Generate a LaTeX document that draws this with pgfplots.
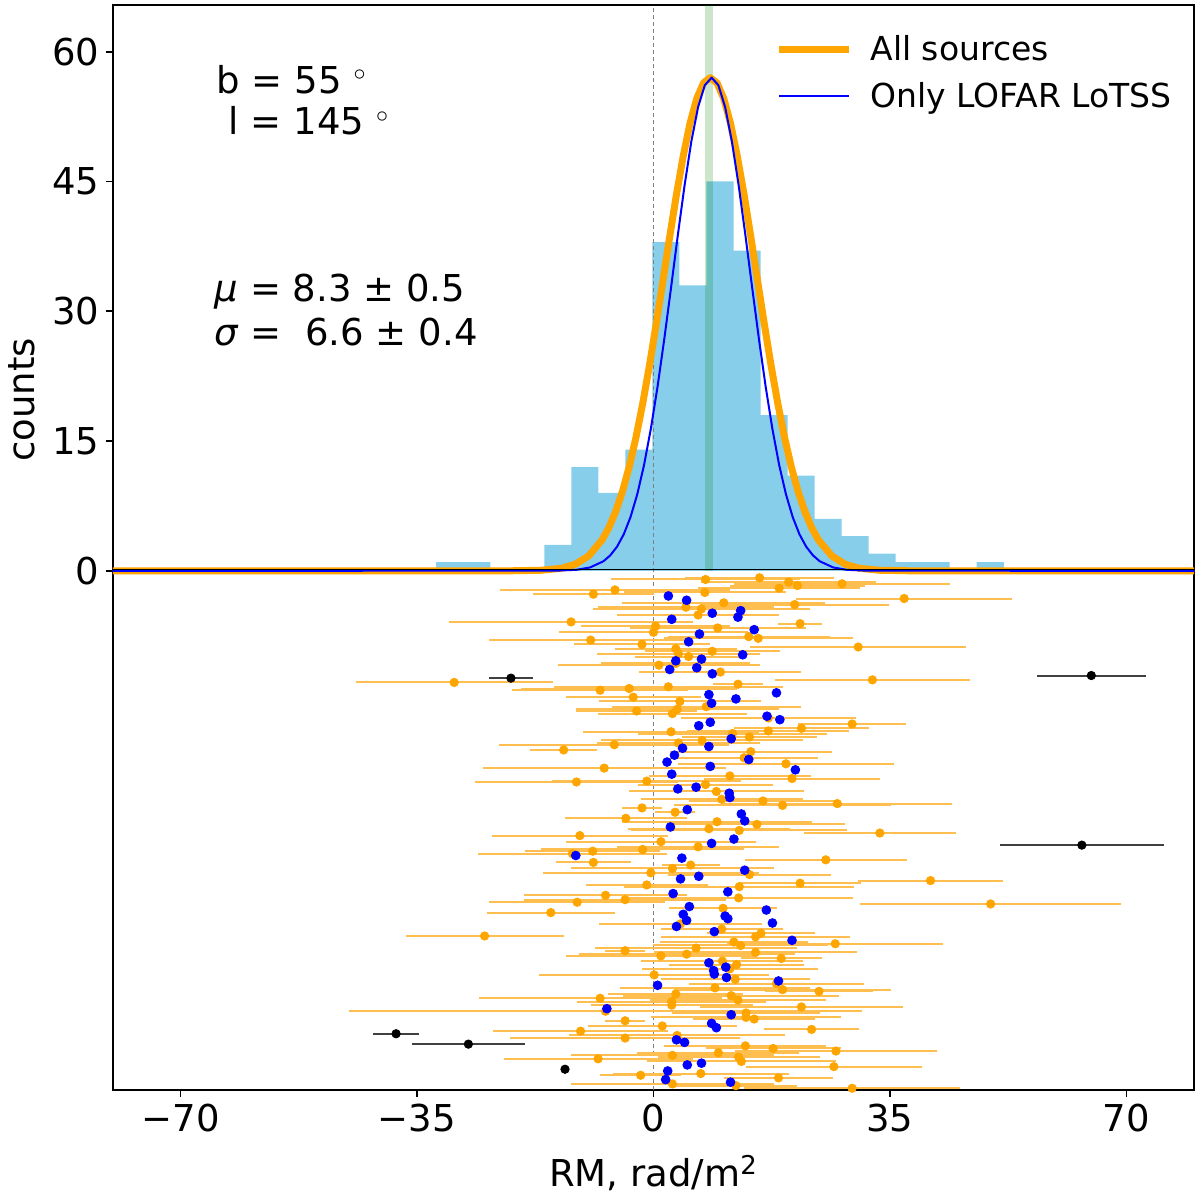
\documentclass[border=0pt]{standalone}
\usepackage{fontspec}
\setmainfont{DejaVu Sans}
\usepackage{pgfplots}
\pgfplotsset{compat=1.18}
\definecolor{mplorange}{HTML}{FFA500}
\definecolor{barorange}{RGB}{255,190,80}
\definecolor{skyblue}{HTML}{87CEEB}
\definecolor{mplgreen}{HTML}{008000}
\definecolor{mplblue}{HTML}{0000FF}
\begin{document}
\begin{tikzpicture}
\useasboundingbox (0,0) rectangle (600pt,599pt);
\begin{axis}[
  at={(56.5pt,54pt)}, anchor=south west,
  width=540.5pt, height=542.5pt, scale only axis,
  xmin=-80, xmax=80, ymin=-60, ymax=65.4,
  xtick={-70,-35,0,35,70}, xticklabels={−70,−35,0,35,70},
  ytick={0,15,30,45,60}, yticklabels={0,15,30,45,60},
  tick align=outside, xtick pos=left, ytick pos=left,
  major tick length=3.4pt,
  tick style={black, line width=0.8pt},
  axis line style={line width=0.8pt},
  ticklabel style={font=\fontsize{18.5}{22}\selectfont},
  xlabel={RM, rad/m\textsuperscript{2}}, ylabel={counts},
  every axis x label/.style={at={(axis description cs:0.5,-0.0894)}, anchor=base, font=\fontsize{18.5}{22}\selectfont},
  every axis y label/.style={at={(axis description cs:-0.0842,0.636)}, rotate=90, anchor=center, font=\fontsize{18.5}{22}\selectfont},
  legend style={at={(axis description cs:0.607,0.98)}, anchor=north west, draw=none, fill=none,
    font=\fontsize{16.5}{20}\selectfont, row sep=5.5pt},
  legend cell align=left,
  legend image code/.code={\draw[#1] (0pt,0pt) -- (35pt,0pt); \path (42pt,0pt);},
]
% histogram
\addplot[ybar interval, fill=skyblue, draw=none, forget plot] coordinates {
(-32.16,1) (-28.16,1) (-24.16,0) (-20.16,0) (-16.16,3) (-12.16,12) (-8.16,9) (-4.16,14)
(-0.16,38) (3.84,33) (7.84,45) (11.84,37) (15.84,18) (19.84,11) (23.84,6) (27.84,4)
(31.84,2) (35.84,1) (39.84,1) (43.84,0) (47.84,1) (51.84,0)};
% mean band
\addplot[mplgreen, opacity=0.2, line width=3.7pt, forget plot] coordinates {(8.2,0) (8.2,65.4)};
% zero line
\addplot[gray, line width=0.5pt, dash pattern=on 2pt off 1.5pt, forget plot] coordinates {(0,-60) (0,65.4)};
% gaussians
\addplot[mplorange, line width=3.5pt, line join=round] coordinates {
(-80,0) (-21.6,0) (-16.6,0.07) (-13.6,0.30) (-11.6,0.75) (-9.6,1.72) (-7.6,3.58) (-6.6,5.00)
(-5.6,6.85) (-4.6,9.17) (-3.6,12.01) (-2.6,15.40) (-1.6,19.33) (-0.6,23.74) (0.4,28.53)
(1.4,33.55) (2.4,38.62) (3.4,43.50) (4.4,47.94) (5.4,51.71) (6.4,54.59) (7.4,56.39) (8.4,57)
(9.4,56.39) (10.4,54.59) (11.4,51.71) (12.4,47.94) (13.4,43.50) (14.4,38.62) (15.4,33.55)
(16.4,28.53) (17.4,23.74) (18.4,19.33) (19.4,15.40) (20.4,12.01) (21.4,9.17) (22.4,6.85)
(23.4,5.00) (24.4,3.58) (26.4,1.72) (28.4,0.75) (30.4,0.30) (33.4,0.07) (38.4,0) (80,0)};
\addlegendentry{All sources}
\addplot[mplblue, line width=1pt, line join=round] coordinates {
(-80,0) (-14.4,0.02) (-11.4,0.12) (-9.4,0.39) (-7.4,1.11) (-6.4,1.79) (-5.4,2.79) (-4.4,4.23)
(-3.4,6.22) (-2.4,8.86) (-1.4,12.23) (-0.4,16.39) (0.6,21.29) (1.6,26.82) (2.6,32.75)
(3.6,38.80) (4.6,44.56) (5.6,49.63) (6.6,53.60) (7.6,56.13) (8.6,57) (9.6,56.13) (10.6,53.60)
(11.6,49.63) (12.6,44.56) (13.6,38.80) (14.6,32.75) (15.6,26.82) (16.6,21.29) (17.6,16.39)
(18.6,12.23) (19.6,8.86) (20.6,6.22) (21.6,4.23) (22.6,2.79) (23.6,1.79) (24.6,1.11)
(26.6,0.39) (28.6,0.12) (31.6,0.02) (80,0)};
\addlegendentry{Only LOFAR LoTSS}
\addplot[black, line width=0.8pt, forget plot] coordinates {(-80,0.15) (80,0.15)};
% orange sources
\addplot[only marks, mark=*, mark size=2.1pt, color=mplorange, forget plot,
  error bars/.cd, x dir=both, x explicit, error mark=none,
  error bar style={barorange, line width=1pt}]
  table[x=x, y=y, x error=e] {
x y e
7.7 -1.0 14
15.7 -0.8 11
20.0 -1.3 13
21.3 -1.7 10
18.6 -2.0 12
27.9 -1.5 16
-5.7 -2.2 17
-8.9 -2.7 9
7.6 -2.5 12
10.4 -3.7 15
4.8 -4.2 13
7.1 -4.4 16
6.6 -5.1 12
20.9 -3.9 14
-12.2 -5.9 18
0.3 -6.4 11
0.0 -7.1 14
9.5 -6.6 13
21.7 -6.1 3.3
14.1 -7.6 12
15.5 -7.8 14
-9.3 -8.0 15
-1.7 -8.5 10
3.3 -9.0 9
3.7 -9.6 12
8.7 -9.3 10
5.2 -9.9 8
30.3 -8.8 16
37.1 -3.2 16
0.8 -10.9 15
3.3 -10.7 11
9.9 -11.7 12
12.5 -13.1 3.7
-7.9 -13.8 13
-3.6 -13.6 16
2.2 -13.4 17
-3.0 -14.6 10
3.9 -15.1 12
7.8 -15.7 14
3.5 -16.0 15
2.8 -16.5 11
-2.5 -16.2 9
17.0 -17.0 13
17.0 -18.5 12
21.9 -18.2 10
29.4 -17.7 8
2.6 -18.6 13
14.2 -19.2 10
11.7 -18.8 14
-5.8 -20.1 17
3.7 -19.9 12
7.2 -19.6 15
-13.3 -20.7 5
14.4 -20.9 12
-29.5 -12.9 14.6
32.4 -12.6 14.4
13.4 -21.6 11
19.6 -22.3 16
-7.3 -22.8 18
11.3 -23.7 12
20.5 -24.0 13
-11.4 -24.4 15
-1.0 -24.3 14
7.7 -24.7 10
9.3 -25.5 13
10.1 -26.4 12
16.2 -26.6 11
19.1 -27.1 16
27.2 -26.9 17
-1.7 -27.4 3
3.2 -27.9 3
-4.1 -28.6 9
9.4 -29.0 14
15.3 -29.3 13
8.2 -29.8 12
12.7 -30.0 16
-10.9 -30.6 13
33.5 -30.3 11.2
1.1 -31.3 14
6.6 -31.9 12
-1.6 -32.2 15
-9.0 -32.4 10
-12.0 -32.7 14
-8.9 -33.7 5.5
5.5 -34.0 4.3
2.8 -34.4 15
-0.4 -34.9 16
25.5 -33.4 12
14.2 -35.1 12
21.7 -36.1 9
12.7 -36.5 17
-1.0 -36.3 9
-7.1 -37.5 12
-4.2 -38.0 15
-11.3 -38.3 13
12.6 -37.8 17
10.3 -39.0 8
-15.2 -39.5 9.5
41.0 -35.8 10.7
49.9 -38.5 19.3
-25.0 -42.2 11.7
4.0 -40.8 12
10.1 -41.4 9
15.9 -41.9 8
15.1 -42.3 14
11.9 -42.9 11
12.9 -43.3 13
26.9 -43.1 16
6.3 -43.6 15
-4.2 -43.9 3
4.9 -44.3 16
1.1 -44.5 14
15.1 -44.1 15
18.9 -44.8 6
10.2 -45.1 12
12.3 -45.5 10
11.3 -46.0 13
0.1 -46.7 17
12.1 -47.2 11
18.2 -47.7 13
19.1 -48.4 16
24.5 -48.6 8
9.1 -48.2 14
3.3 -48.9 10
11.5 -49.1 16
12.5 -49.6 13
-7.9 -49.4 18
2.7 -49.8 14
2.7 -50.2 12
21.9 -50.4 15
-7.1 -50.9 38
13.7 -51.1 11
13.7 -51.6 14
14.9 -51.8 9
-4.2 -52.0 3
1.3 -52.6 11
23.4 -53.0 7
-10.8 -53.2 13
-4.2 -54.0 17
3.5 -53.7 16
13.6 -54.9 12
17.7 -55.2 10
27.0 -55.5 15
9.6 -55.7 12
2.8 -56.0 15
12.6 -56.2 12
13.0 -56.7 14
-8.2 -56.4 14
26.7 -57.3 13
7.0 -58.1 13
-1.9 -58.3 6
18.5 -58.6 8
2.8 -59.3 15
12.2 -59.5 9
29.4 -59.8 16
};
% black outliers
\addplot[only marks, mark=*, mark size=2.1pt, color=black, forget plot,
  error bars/.cd, x dir=both, x explicit, error mark=none,
  error bar style={black!75, line width=1pt}]
  table[x=x, y=y, x error=e] {
x y e
-21.1 -12.4 3.3
64.8 -12.1 8.1
63.4 -31.7 12.1
-38.1 -53.5 3.45
-27.4 -54.7 8.4
-13.1 -57.6 0
};
% LOFAR LoTSS sources
\addplot[only marks, mark=*, mark size=2.2pt, color=mplblue, forget plot] table {
2.2 -2.9
4.9 -3.4
12.9 -4.6
12.5 -5.35
8.7 -4.9
2.7 -5.6
14.9 -6.8
6.8 -7.3
5.2 -8.2
13.2 -9.7
7.1 -10.2
3.3 -10.4
6.4 -11.2
2.4 -11.4
8.7 -11.9
18.2 -14.1
8.2 -14.3
12.2 -14.8
8.6 -15.3
16.8 -16.8
18.7 -17.2
8.4 -17.5
6.7 -17.9
11.5 -19.4
8.2 -20.3
4.3 -20.5
3.1 -21.3
2.0 -22.1
14.1 -21.8
8.4 -22.6
21.0 -23.0
2.7 -23.5
6.3 -25.0
3.6 -25.2
11.2 -25.7
11.3 -26.2
5.0 -27.6
13.0 -28.1
13.5 -28.9
2.5 -29.6
11.9 -31.0
8.6 -31.5
-11.5 -32.9
4.2 -33.2
13.5 -34.6
4.0 -35.6
6.7 -35.3
11.0 -37.1
2.9 -37.3
5.3 -38.8
16.7 -39.2
4.4 -39.7
4.9 -40.4
10.6 -39.9
11.0 -40.2
17.6 -40.7
3.4 -41.1
9.0 -41.7
20.5 -42.7
8.2 -45.3
10.7 -45.8
8.9 -46.2
9.0 -46.6
10.8 -47.0
18.5 -47.4
0.6 -47.9
-6.9 -50.6
11.5 -51.3
8.6 -52.3
9.3 -52.8
3.4 -54.2
4.6 -54.5
7.1 -56.9
5.0 -57.1
2.1 -57.8
1.8 -58.8
11.4 -59.1
};
% annotations
\node[anchor=base west, inner sep=0pt, font=\fontsize{18.5}{22}\selectfont] at (axis cs:-64.7,55.2) {b = 55 $^{\circ}$};
\node[anchor=base west, inner sep=0pt, font=\fontsize{18.5}{22}\selectfont] at (axis cs:-62.9,50.4) {l = 145 $^{\circ}$};
\node[anchor=base west, inner sep=0pt, font=\fontsize{18.5}{22}\selectfont] at (axis cs:-65,31.1) {\textit{μ} = 8.3 ± 0.5};
\node[anchor=base west, inner sep=0pt, font=\fontsize{18.5}{22}\selectfont] at (axis cs:-65,26.0) {\textit{σ} = \ 6.6 ± 0.4};
\end{axis}
\end{tikzpicture}
\end{document}
